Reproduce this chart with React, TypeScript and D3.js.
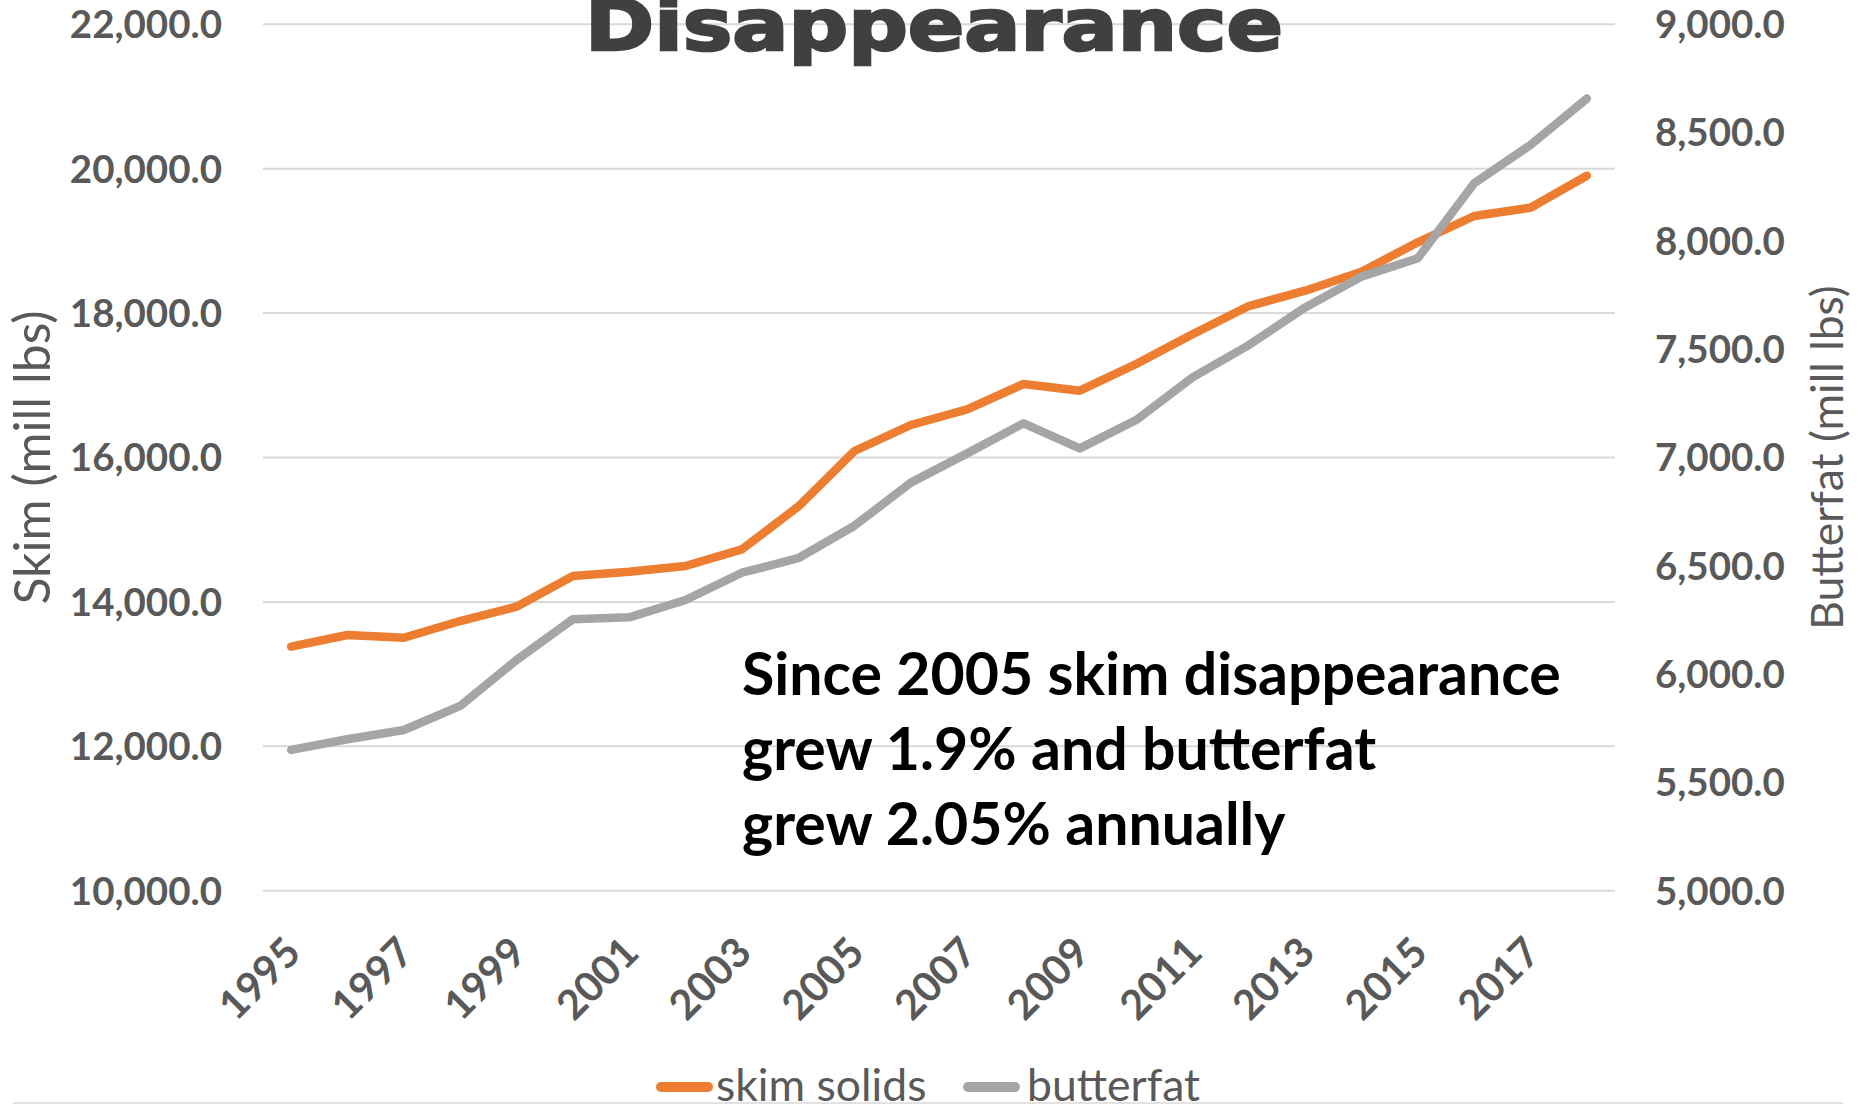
import React from "react";
import * as d3 from "d3";

// Annual disappearance, million lbs
const years: number[] = [
  1995, 1996, 1997, 1998, 1999, 2000, 2001, 2002, 2003, 2004, 2005, 2006,
  2007, 2008, 2009, 2010, 2011, 2012, 2013, 2014, 2015, 2016, 2017, 2018,
];
const skimSolids: number[] = [
  13380, 13542, 13504, 13735, 13934, 14359, 14418, 14497, 14728, 15319,
  16090, 16450, 16667, 17018, 16925, 17295, 17706, 18098, 18310, 18574,
  18980, 19345, 19460, 19903,
];
const butterfat: number[] = [
  5650, 5699, 5742, 5853, 6065, 6253, 6262, 6342, 6468, 6535, 6685, 6884,
  7019, 7158, 7042, 7173, 7370, 7519, 7693, 7835, 7920, 8266, 8443, 8657,
];
const skimTicks: number[] = [10000, 12000, 14000, 16000, 18000, 20000, 22000];
const fatTicks: number[] = [5000, 5500, 6000, 6500, 7000, 7500, 8000, 8500, 9000];
const yearLabels: number[] = years.filter((_, i) => i % 2 === 0);
const titleText = "Disappearance";
const noteLines: string[] = [
  "Since 2005 skim disappearance",
  "grew 1.9% and butterfat",
  "grew 2.05% annually",
];
const seriesNames: string[] = ["skim solids", "butterfat"];

const W = 1860;
const H = 1107;
const plot = { left: 263, right: 1615, top: 24.3, bottom: 890.7 };
const ORANGE = "#ED7D31";
const GRAY = "#A5A5A5";
const LABEL = "#595959";
const GRID = "#D9D9D9";
const FONT = "Lato, 'Open Sans', sans-serif";

const fmt = d3.format(",.1f");

export default function App() {
  const x = d3
    .scalePoint<number>()
    .domain(years)
    .range([plot.left, plot.right])
    .padding(0.5);
  const yL = d3.scaleLinear().domain([10000, 22000]).range([plot.bottom, plot.top]);
  const yR = d3.scaleLinear().domain([5000, 9000]).range([plot.bottom, plot.top]);

  const skimLine = d3
    .line<number>()
    .x((_, i) => x(years[i]) as number)
    .y((d) => yL(d));
  const fatLine = d3
    .line<number>()
    .x((_, i) => x(years[i]) as number)
    .y((d) => yR(d));

  const midY = (plot.top + plot.bottom) / 2;

  const legend = [
    { name: seriesNames[0], color: ORANGE, x0: 661, tx: 716 },
    { name: seriesNames[1], color: GRAY, x0: 968, tx: 1027 },
  ];

  return (
    <svg
      width={W}
      height={H}
      viewBox={`0 0 ${W} ${H}`}
      style={{ position: "absolute", left: 0, top: 0, display: "block", background: "#fff" }}
    >
      {/* gridlines */}
      {skimTicks.map((t) => (
        <line
          key={t}
          x1={plot.left}
          x2={plot.right}
          y1={yL(t)}
          y2={yL(t)}
          stroke={GRID}
          strokeWidth={2}
        />
      ))}

      {/* chart title, partly above the top edge */}
      <text
        x={934}
        y={50}
        textAnchor="middle"
        fontFamily="'DejaVu Sans', sans-serif"
        fontWeight={700}
        fontSize={72}
        fill="#404040"
        stroke="#404040"
        strokeWidth={2.5}
        textLength={698}
        lengthAdjust="spacingAndGlyphs"
      >
        {titleText}
      </text>

      {/* left axis labels */}
      {skimTicks.map((t) => (
        <text
          key={t}
          x={222}
          y={yL(t)}
          dy="0.36em"
          textAnchor="end"
          fontFamily={FONT}
          fontWeight={700}
          fontSize={38.5}
          fill={LABEL}
        >
          {fmt(t)}
        </text>
      ))}

      {/* right axis labels */}
      {fatTicks.map((t) => (
        <text
          key={t}
          x={1655}
          y={yR(t)}
          dy="0.36em"
          textAnchor="start"
          fontFamily={FONT}
          fontWeight={700}
          fontSize={38.5}
          fill={LABEL}
        >
          {fmt(t)}
        </text>
      ))}

      {/* axis titles */}
      <text
        transform={`translate(50,${midY}) rotate(-90)`}
        textAnchor="middle"
        fontFamily={FONT}
        fontSize={50}
        fill={LABEL}
      >
        Skim (mill lbs)
      </text>
      <text
        transform={`translate(1843,${midY}) rotate(-90)`}
        textAnchor="middle"
        fontFamily={FONT}
        fontSize={44.5}
        fill={LABEL}
      >
        Butterfat (mill lbs)
      </text>

      {/* year labels */}
      {yearLabels.map((yr) => (
        <text
          key={yr}
          transform={`translate(${(x(yr) as number) + 12},955) rotate(-45)`}
          textAnchor="end"
          fontFamily={FONT}
          fontWeight={700}
          fontSize={41}
          fill={LABEL}
        >
          {yr}
        </text>
      ))}

      {/* series */}
      <path
        d={skimLine(skimSolids) ?? ""}
        fill="none"
        stroke={ORANGE}
        strokeWidth={8.5}
        strokeLinejoin="round"
        strokeLinecap="round"
      />
      <path
        d={fatLine(butterfat) ?? ""}
        fill="none"
        stroke={GRAY}
        strokeWidth={8.5}
        strokeLinejoin="round"
        strokeLinecap="round"
      />

      {/* annotation */}
      {noteLines.map((s, i) => (
        <text
          key={i}
          x={742}
          y={695 + i * 75}
          fontFamily={FONT}
          fontWeight={700}
          fontSize={59}
          fill="#000"
        >
          {s}
        </text>
      ))}

      {/* legend */}
      {legend.map((l) => (
        <g key={l.name}>
          <line
            x1={l.x0}
            x2={l.x0 + 47}
            y1={1087}
            y2={1087}
            stroke={l.color}
            strokeWidth={10}
            strokeLinecap="round"
          />
          <text x={l.tx} y={1101} fontFamily={FONT} fontSize={44.5} fill={LABEL}>
            {l.name}
          </text>
        </g>
      ))}

      {/* bottom frame edge */}
      <line x1={13} x2={1843} y1={1103} y2={1103} stroke={GRID} strokeWidth={1.5} />
    </svg>
  );
}
